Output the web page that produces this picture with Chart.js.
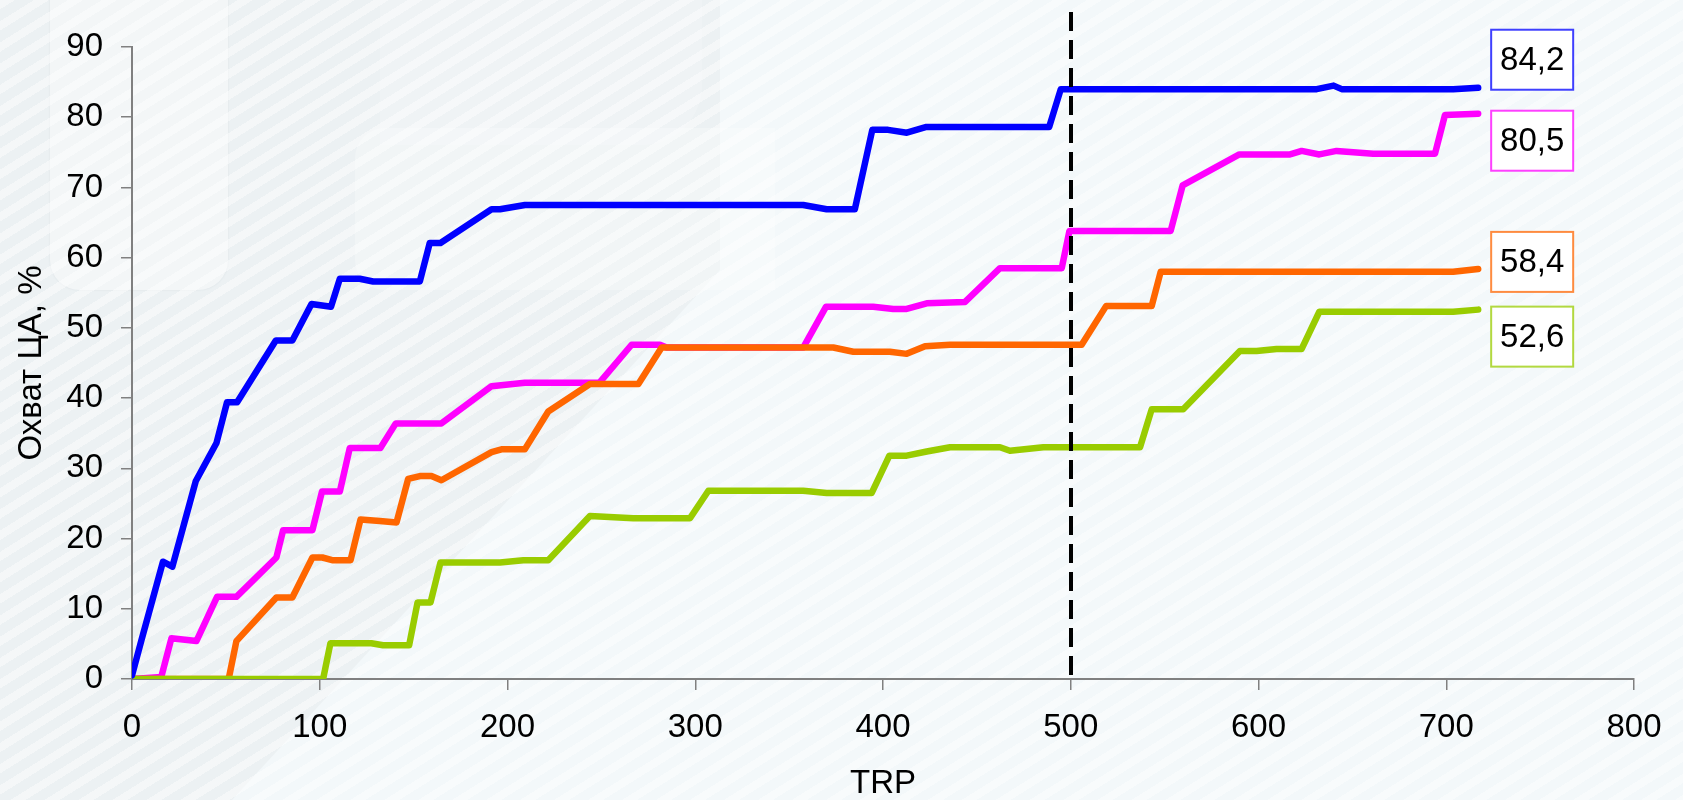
<!DOCTYPE html>
<html>
<head>
<meta charset="utf-8">
<script src="https://cdn.jsdelivr.net/npm/chart.js@4.4.1/dist/chart.umd.min.js"></script>
<style>
  html, body { margin: 0; padding: 0; }
  body { width: 1683px; height: 800px; overflow: hidden; position: relative; background: #f3f8fa; }
  .bg { position: absolute; }
  .gray { left: 0; top: 0; width: 1683px; height: 800px; background: #ecf1f3;
          clip-path: polygon(0 0, 720px 0, 720px 270px, 232px 800px, 0 800px); }
  .card1 { left: 50px; top: -40px; width: 178px; height: 330px; border-radius: 30px;
           background: rgba(255,255,255,0.38); box-shadow: 0 0 2px rgba(190,200,205,0.4); }
  .card2 { left: 355px; top: 128px; width: 420px; height: 162px; border-radius: 30px 0 0 30px;
           background: rgba(255,255,255,0.28); }
  .card3 { left: 380px; top: -80px; width: 322px; height: 225px; border-radius: 0 80px 60px 0;
           background: rgba(255,255,255,0.2); }
  .stripes { left: 0; top: 0; width: 1683px; height: 800px;
             background: repeating-linear-gradient(148deg, rgba(255,255,255,0.45) 0 8px, rgba(255,255,255,0) 8px 18px); }
  canvas { position: absolute; left: 0; top: 0; }
</style>
</head>
<body>
<div class="bg gray"></div>
<div class="bg card3"></div>
<div class="bg card1"></div>
<div class="bg card2"></div>
<div class="bg stripes"></div>
<canvas id="reach" width="1683" height="800"></canvas>
<script>
// Охват ЦА по TRP — четыре варианта медиаплана
const seriesNames = ['Вариант 1', 'Вариант 2', 'Вариант 3', 'Вариант 4'];
const seriesColors = ['#0000ff', '#ff00ff', '#ff6600', '#99cc00'];

const blueX = [0, 5, 16.5, 21.5, 34, 45, 50.6, 56, 76.6, 85.4, 95.6, 106, 110.7, 121.3, 128.4, 153.3, 158.6, 164.3, 191.5, 196, 209.3, 357.5, 370, 385, 394.3, 402.7, 412.7, 422.7, 488.5, 494.7, 631, 640, 644.3, 703.7, 717];
const blueY = [0.5, 5.5, 16.7, 16, 28.2, 33.6, 39.4, 39.4, 48.2, 48.2, 53.4, 53, 57, 57, 56.6, 56.6, 62.1, 62.1, 66.9, 66.9, 67.5, 67.5, 66.9, 66.9, 78.2, 78.2, 77.8, 78.6, 78.6, 84, 84, 84.5, 84, 84, 84.2];

const magentaX = [0, 15.6, 21, 34.3, 45.3, 55.6, 76.9, 80.5, 96.1, 101.2, 110.7, 116, 132.3, 140.5, 164.8, 191.5, 209.2, 249, 266.1, 281.2, 284.8, 357.5, 369.6, 394.8, 405.5, 412.6, 423.3, 443.7, 462.3, 495.2, 499.3, 553.2, 559.6, 589.8, 616.8, 623, 632.4, 641.6, 661.1, 694, 699.3, 717];
const magentaY = [0, 0.3, 5.8, 5.4, 11.7, 11.7, 17.3, 21.2, 21.2, 26.7, 26.7, 32.9, 32.9, 36.4, 36.4, 41.7, 42.2, 42.2, 47.6, 47.6, 47.2, 47.2, 53, 53, 52.7, 52.7, 53.5, 53.7, 58.5, 58.5, 63.8, 63.8, 70.3, 74.7, 74.7, 75.2, 74.7, 75.2, 74.8, 74.8, 80.3, 80.5];

const orangeX = [0, 51.5, 55.6, 76.9, 85.4, 96.1, 101.4, 107.1, 116.4, 121.7, 132, 140.9, 147.1, 153.3, 159.5, 164.8, 191.5, 196.8, 209.2, 221.7, 243.9, 269.7, 282.1, 373.5, 384.2, 403.7, 412.6, 422.4, 435.7, 505.8, 518.8, 543.1, 547.9, 703.7, 717];
const orangeY = [0, 0, 5.4, 11.6, 11.6, 17.3, 17.3, 16.9, 16.9, 22.7, 22.5, 22.3, 28.5, 28.9, 28.9, 28.3, 32.3, 32.7, 32.7, 38.1, 42, 42, 47.2, 47.2, 46.6, 46.6, 46.3, 47.4, 47.6, 47.6, 53.1, 53.1, 58, 58, 58.4];

const greenX = [0, 101.8, 105.7, 127.5, 133.7, 147.6, 152.1, 159, 164.3, 196, 208.4, 221.7, 243.9, 267, 297.2, 307, 357.5, 370, 394, 403.4, 412.6, 423.3, 435.7, 462.3, 467.6, 485.4, 536.9, 543.1, 559.9, 590.1, 599, 609.6, 623, 632.4, 703.7, 717];
const greenY = [0, 0, 5.1, 5.1, 4.8, 4.8, 10.9, 10.9, 16.6, 16.6, 16.9, 16.9, 23.2, 22.9, 22.9, 26.8, 26.8, 26.5, 26.5, 31.8, 31.8, 32.4, 33, 33, 32.5, 33, 33, 38.4, 38.4, 46.7, 46.7, 47, 47, 52.3, 52.3, 52.6];

const xTicks = [0, 100, 200, 300, 400, 500, 600, 700, 800];
const yTicks = [0, 10, 20, 30, 40, 50, 60, 70, 80, 90];
const markerX = 500;   // вертикальная пунктирная линия
const markerTop = 95;

const FONT = "'Liberation Sans', Arial, sans-serif";

function toPoints(xs, ys) {
    return xs.map((x, i) => ({ x: x, y: ys[i] }));
}

const allX = [blueX, magentaX, orangeX, greenX];
const allY = [blueY, magentaY, orangeY, greenY];
const drawOrder = [0, 3, 2, 1]; // green above orange above magenta

// label boxes sit a bit above/below the line end
const labelShift = [-28, 27, -7, 27];

const overlayPlugin = {
    id: 'overlay',
    afterDatasetsDraw(chart) {
        const ctx = chart.ctx;
        const xs = chart.scales.x, ys = chart.scales.y;

        // dashed marker at 500 TRP
        const px = Math.round(xs.getPixelForValue(markerX));
        ctx.save();
        ctx.strokeStyle = '#000';
        ctx.lineWidth = 4;
        ctx.setLineDash([19, 9]);
        ctx.beginPath();
        ctx.moveTo(px, ys.getPixelForValue(markerTop));
        ctx.lineTo(px, ys.getPixelForValue(0));
        ctx.stroke();
        ctx.restore();

        // value boxes at line ends
        chart.data.datasets.forEach((ds, i) => {
            const pts = ds.data;
            const last = pts[pts.length - 1];
            const ex = xs.getPixelForValue(last.x);
            const ey = ys.getPixelForValue(last.y);
            const w = 82, h = 60;
            const left = ex + 13;
            const cy = ey + labelShift[i];
            ctx.save();
            ctx.fillStyle = '#ffffff';
            ctx.fillRect(left, cy - h / 2, w, h);
            ctx.strokeStyle = ds.borderColor;
            ctx.globalAlpha = 0.75;
            ctx.lineWidth = 2;
            ctx.strokeRect(left, cy - h / 2, w, h);
            ctx.globalAlpha = 1;
            ctx.fillStyle = '#000';
            ctx.font = '33px ' + FONT;
            ctx.textAlign = 'center';
            ctx.textBaseline = 'middle';
            ctx.fillText(last.y.toFixed(1).replace('.', ','), left + w / 2, cy + 1);
            ctx.restore();
        });
    }
};

new Chart(document.getElementById('reach'), {
    type: 'line',
    data: {
        datasets: seriesNames.map((name, i) => ({
            label: name,
            data: toPoints(allX[i], allY[i]),
            borderColor: seriesColors[i],
            backgroundColor: seriesColors[i],
            borderWidth: 6.5,
            borderCapStyle: 'round',
            borderJoinStyle: 'round',
            pointRadius: 0,
            tension: 0,
            fill: false,
            order: drawOrder[i]
        }))
    },
    options: {
        responsive: false,
        animation: false,
        devicePixelRatio: 1,
        layout: { padding: { top: 47, right: 49, left: 0, bottom: 0 } },
        plugins: {
            legend: { display: false },
            tooltip: { enabled: false }
        },
        scales: {
            x: {
                type: 'linear',
                min: xTicks[0],
                max: xTicks[xTicks.length - 1],
                afterBuildTicks: s => { s.ticks = xTicks.map(v => ({ value: v })); },
                afterFit: s => { s.height = 121; },
                ticks: {
                    color: '#000',
                    font: { size: 33, family: FONT },
                    padding: 18,
                    autoSkip: false,
                    maxRotation: 0
                },
                grid: { drawOnChartArea: false, tickLength: 11, color: '#808080', lineWidth: 1.5 },
                border: { color: '#808080', width: 2 },
                title: {
                    display: true,
                    text: 'TRP',
                    color: '#000',
                    font: { size: 33, family: FONT, lineHeight: 1 },
                    padding: { top: 0, bottom: 0 }
                }
            },
            y: {
                min: yTicks[0],
                max: yTicks[yTicks.length - 1],
                afterBuildTicks: s => { s.ticks = yTicks.map(v => ({ value: v })); },
                afterFit: s => { s.width = 132; },
                ticks: {
                    color: '#000',
                    font: { size: 33, family: FONT },
                    padding: 18,
                    autoSkip: false
                },
                grid: { drawOnChartArea: false, tickLength: 11, color: '#808080', lineWidth: 1.5 },
                border: { color: '#808080', width: 2 },
                title: {
                    display: true,
                    text: 'Охват ЦА, %',
                    color: '#000',
                    font: { size: 33, family: FONT, lineHeight: 1 },
                    padding: { top: 15, bottom: 0 }
                }
            }
        }
    },
    plugins: [overlayPlugin]
});
</script>
</body>
</html>
